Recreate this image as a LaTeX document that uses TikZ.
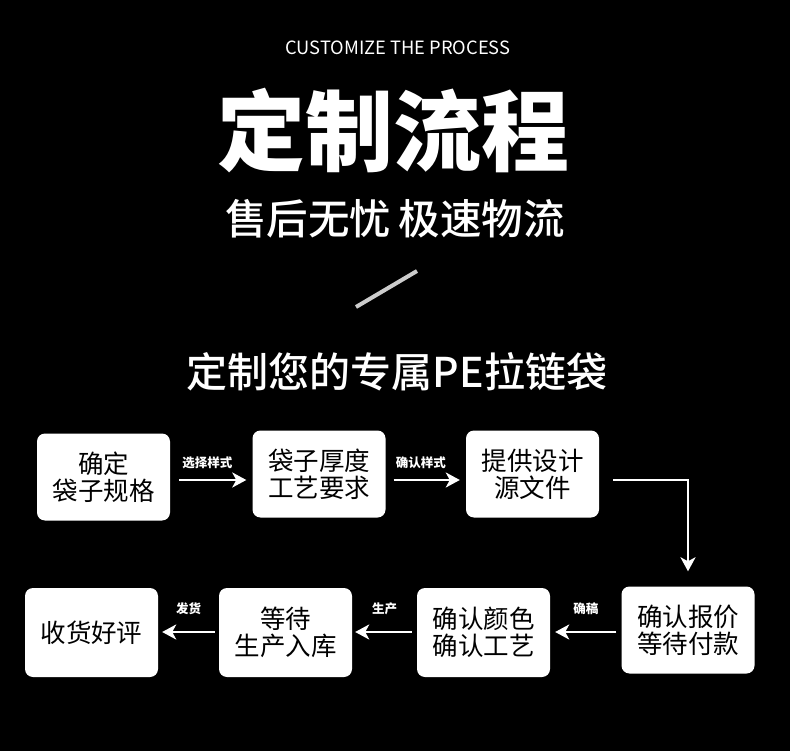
\documentclass[tikz,border=0pt]{standalone}
\usepackage{fontspec}
\usetikzlibrary{arrows.meta}
\newfontfamily\cjk{Noto Sans CJK SC}
\newfontfamily\cjkmed{Noto Sans CJK SC Medium}

\begin{document}
\begin{tikzpicture}[
    x=1pt, y=-1pt,
    >={Stealth[length=14pt,width=15pt,inset=4pt]},
    stepbox/.style={
        rectangle,
        rounded corners=8pt,
        fill=white,
        text=black,
        minimum width=133pt,
        minimum height=87pt,
        inner sep=0pt,
        align=center,
        font=\cjk\fontsize{25.5}{27}\selectfont
    },
    tag/.style={
        text=white,
        inner sep=0pt,
        font=\cjk\bfseries\fontsize{12.5}{13}\selectfont
    },
    flow/.style={
        ->,
        draw=white,
        line width=2.6pt
    }
]

    % Background
    \fill[black] (0,0) rectangle (790,751);
    \useasboundingbox (0,0) rectangle (790,751);

    % Headings
    \node[text=white, font=\cjk\fontsize{18.3}{19}\selectfont] (en) at (398,48)
        {CUSTOMIZE THE PROCESS};
    \node[text=white, font=\cjk\bfseries\fontsize{88}{90}\selectfont] (title) at (393,131)
        {定制流程};
    \node[text=white, font=\cjkmed\fontsize{41.5}{44}\selectfont] (sub) at (395,219)
        {售后无忧\hspace{8pt}极速物流};
    \draw[white!80!black, line width=4pt] (356,307) -- (417,271);
    \node[text=white, font=\cjkmed\fontsize{41}{43}\selectfont] (head) at (397,372)
        {定制您的专属PE拉链袋};

    % First row
    \node[stepbox] (B1) at (103.5,477) {确定\\袋子规格};
    \node[stepbox] (B2) at (319,474) {袋子厚度\\工艺要求};
    \node[stepbox] (B3) at (532.5,474) {提供设计\\源文件};

    % Second row
    \node[stepbox] (B4) at (688,630) {确认报价\\等待付款};
    \node[stepbox, minimum height=89pt] (B5) at (483.5,632.5) {确认颜色\\确认工艺};
    \node[stepbox, minimum height=89pt] (B6) at (285.5,632.5) {等待\\生产入库};
    \node[stepbox, minimum height=89pt] (B7) at (91.5,632.5) {收货好评};

    % Connections
    \draw[flow, shorten <=9pt, shorten >=6pt] (B1.east |- 0,480) --
        node[tag, above=10pt, xshift=-4pt] (t1) {选择样式} (B2.west |- 0,480);
    \draw[flow, shorten <=8pt, shorten >=6pt] (B2.east |- 0,480) --
        node[tag, above=10pt, xshift=-5pt] (t2) {确认样式} (B3.west |- 0,480);
    \draw[flow, shorten <=14pt, shorten >=15pt] (B3.east |- 0,480) -| (B4.north);

    \draw[flow, shorten <=5pt, shorten >=5pt] (B4.west |- 0,632) --
        node[tag, above=16pt] (t3) {确稿} (B5.east |- 0,632);
    \draw[flow, shorten <=5pt, shorten >=3pt] (B5.west |- 0,632) --
        node[tag, above=16pt] (t4) {生产} (B6.east |- 0,632);
    \draw[flow, shorten <=4pt, shorten >=4pt] (B6.west |- 0,632) --
        node[tag, above=16pt] (t5) {发货} (B7.east |- 0,632);

\end{tikzpicture}
\end{document}
